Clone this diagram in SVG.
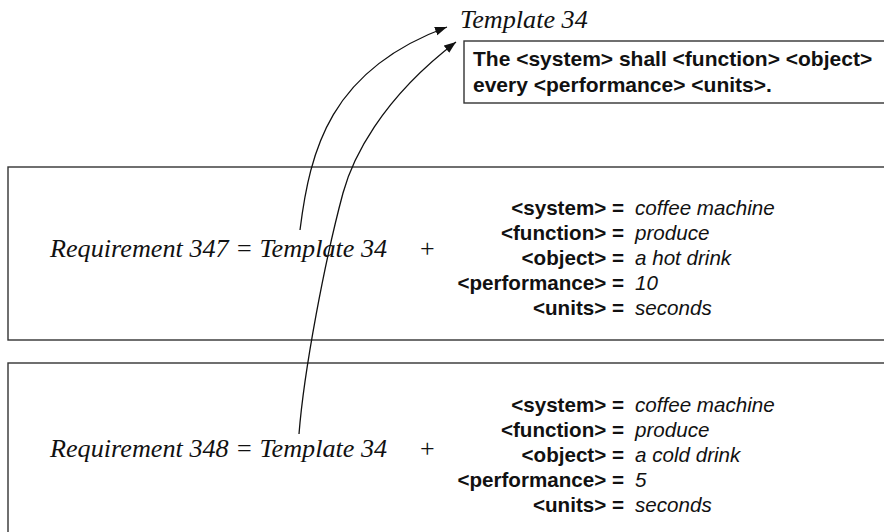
<svg xmlns="http://www.w3.org/2000/svg" width="884" height="532" viewBox="0 0 884 532">
  <style>
    .frame { fill: none; stroke: #333; stroke-width: 1.4; }
    .serif { font-family: "Liberation Serif", "Times New Roman", serif; font-style: italic; font-size: 26.2px; fill: #111; }
    .plus { font-family: "Liberation Serif", "Times New Roman", serif; font-size: 26px; fill: #111; }
    .tpl { font-family: "Liberation Sans", Arial, sans-serif; font-weight: bold; font-size: 21px; fill: #111; }
    .key { font-family: "Liberation Sans", Arial, sans-serif; font-weight: bold; font-size: 20.6px; fill: #111; text-anchor: end; }
    .val { font-family: "Liberation Sans", Arial, sans-serif; font-style: italic; font-size: 20.6px; fill: #111; }
    .link { fill: none; stroke: #111; stroke-width: 1.3; }
  </style>
  <defs>
    <marker id="arrow" viewBox="0 0 12 10" refX="12" refY="5" markerWidth="12" markerHeight="10" markerUnits="userSpaceOnUse" orient="auto">
      <path d="M0,0.5 L12,5 L0,9.5 z" fill="#111"/>
    </marker>
  </defs>

  <!-- Template definition -->
  <g id="template">
    <text class="serif" x="460" y="28">Template 34</text>
    <rect class="frame" x="464" y="41" width="430" height="62"/>
    <text class="tpl" x="473" y="66">The &lt;system&gt; shall &lt;function&gt; &lt;object&gt;</text>
    <text class="tpl" x="473" y="92">every &lt;performance&gt; &lt;units&gt;.</text>
  </g>

  <!-- Requirement 347 -->
  <g id="req347">
    <rect class="frame" x="8" y="167" width="890" height="173"/>
    <text class="serif" x="50" y="257">Requirement 347 = Template 34</text>
    <text class="plus" x="420" y="257">+</text>
    <text class="key" x="624" y="215">&lt;system&gt; =</text>
    <text class="val" x="635" y="215">coffee machine</text>
    <text class="key" x="624" y="240">&lt;function&gt; =</text>
    <text class="val" x="635" y="240">produce</text>
    <text class="key" x="624" y="265">&lt;object&gt; =</text>
    <text class="val" x="635" y="265">a hot drink</text>
    <text class="key" x="624" y="290">&lt;performance&gt; =</text>
    <text class="val" x="635" y="290">10</text>
    <text class="key" x="624" y="315">&lt;units&gt; =</text>
    <text class="val" x="635" y="315">seconds</text>
  </g>

  <!-- Requirement 348 -->
  <g id="req348">
    <rect class="frame" x="8" y="363" width="890" height="190"/>
    <text class="serif" x="50" y="457">Requirement 348 = Template 34</text>
    <text class="plus" x="420" y="457">+</text>
    <text class="key" x="624" y="412">&lt;system&gt; =</text>
    <text class="val" x="635" y="412">coffee machine</text>
    <text class="key" x="624" y="437">&lt;function&gt; =</text>
    <text class="val" x="635" y="437">produce</text>
    <text class="key" x="624" y="462">&lt;object&gt; =</text>
    <text class="val" x="635" y="462">a cold drink</text>
    <text class="key" x="624" y="487">&lt;performance&gt; =</text>
    <text class="val" x="635" y="487">5</text>
    <text class="key" x="624" y="512">&lt;units&gt; =</text>
    <text class="val" x="635" y="512">seconds</text>
  </g>

  <!-- Instantiation links back to the template -->
  <g id="connectors">
    <path class="link" d="M300,230 C310,150 330,70 447,27" marker-end="url(#arrow)"/>
    <path class="link" d="M299,434 C304,370 325,260 343,193 C352,160 380,100 456,42" marker-end="url(#arrow)"/>
  </g>
</svg>
